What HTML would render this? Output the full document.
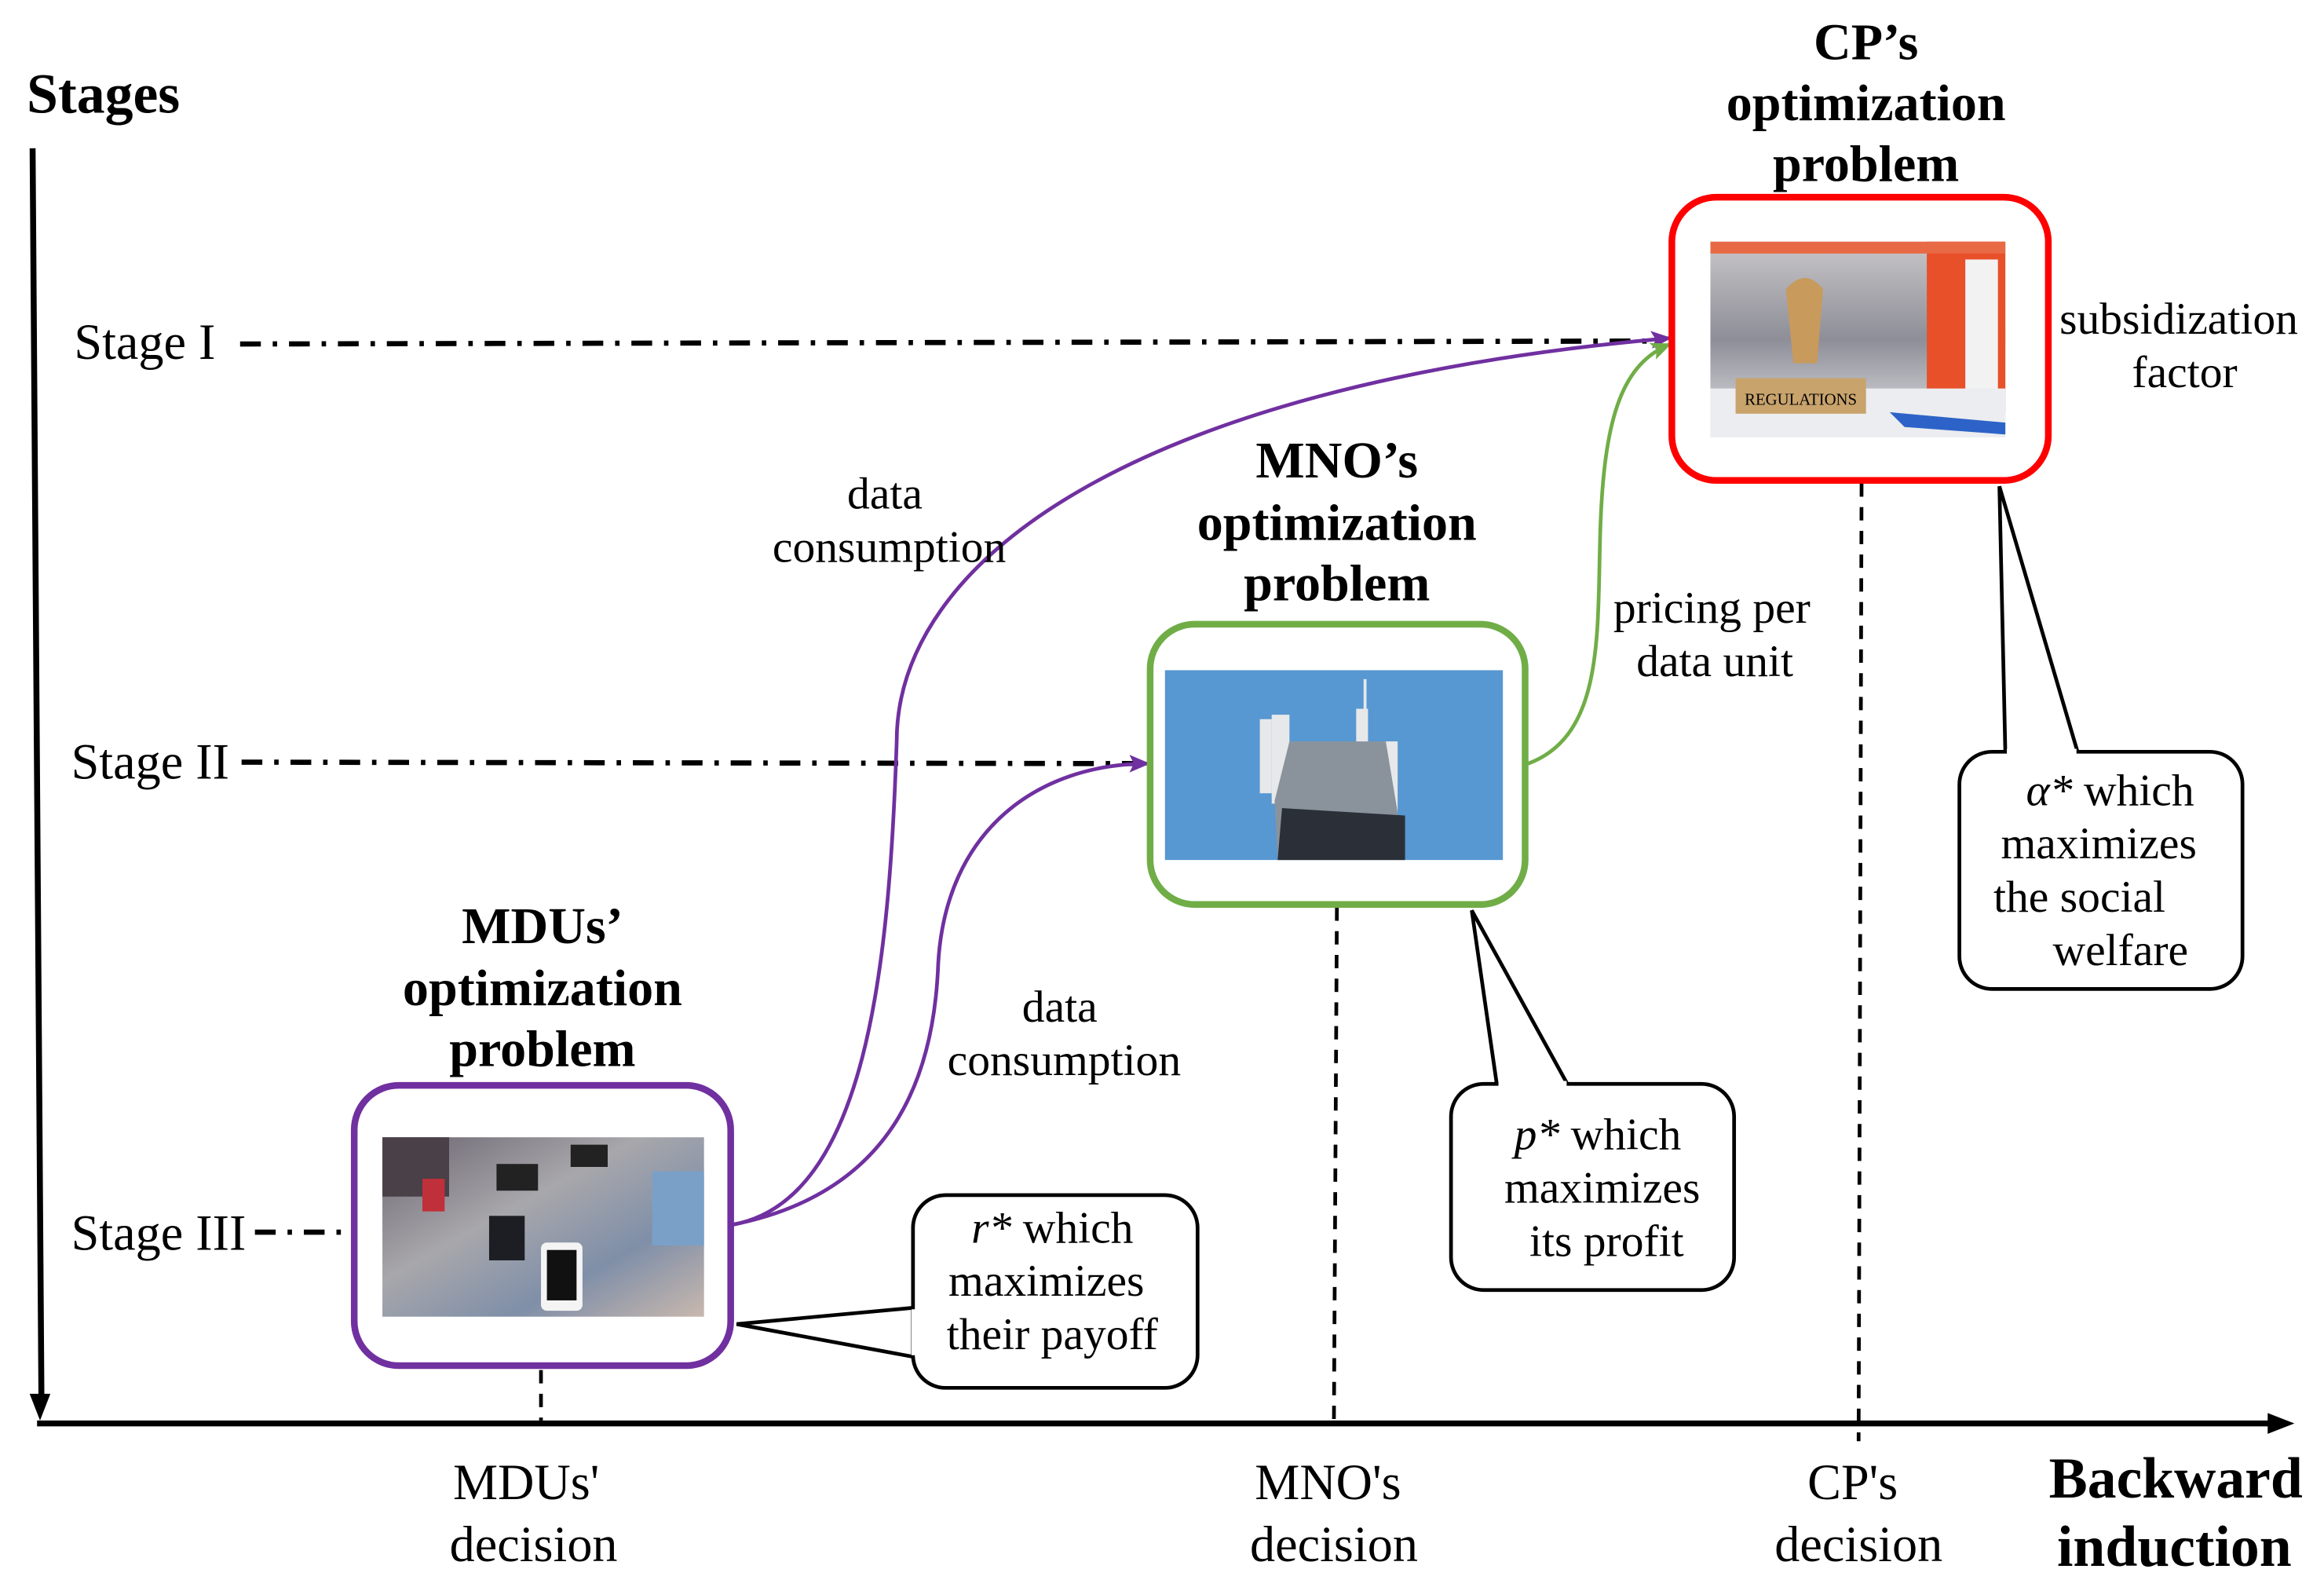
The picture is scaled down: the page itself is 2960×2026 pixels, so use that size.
<!DOCTYPE html>
<html><head><meta charset="utf-8"><style>
html,body{margin:0;padding:0;background:#fff;}
svg{display:block;}
text{font-family:"Liberation Serif",serif;fill:#000;}
.b{font-weight:bold;font-size:35px;}
.n{font-size:30.5px;}
</style></head><body>
<svg width="2960" height="2026" viewBox="0 0 1568 1073" preserveAspectRatio="none" xmlns="http://www.w3.org/2000/svg">
<defs>
<marker id="ap" markerWidth="14" markerHeight="12" refX="13" refY="6" orient="auto" markerUnits="userSpaceOnUse"><path d="M0,0 L14,6 L0,12 L3,6 z" fill="#7030a0"/></marker>
<marker id="ag" markerWidth="14" markerHeight="12" refX="13" refY="6" orient="auto" markerUnits="userSpaceOnUse"><path d="M0,0 L14,6 L0,12 L3,6 z" fill="#70ad47"/></marker>
<linearGradient id="ph" x1="0" y1="0" x2="1" y2="1"><stop offset="0" stop-color="#6a6470"/><stop offset="0.4" stop-color="#a8a7ab"/><stop offset="0.7" stop-color="#7f8fa8"/><stop offset="1" stop-color="#c9b8ae"/></linearGradient>
<linearGradient id="rg" x1="0" y1="0" x2="0" y2="1"><stop offset="0" stop-color="#c8c6c8"/><stop offset="0.5" stop-color="#8e8e98"/><stop offset="1" stop-color="#e6e6ea"/></linearGradient>
</defs>

<text x="18" y="76" class="b" style="font-size:38px">Stages</text>
<line x1="22" y1="100" x2="28" y2="950" stroke="#000" stroke-width="4"/>
<path d="M27,958 L20,940 L34,940 z" fill="#000"/>
<line x1="25" y1="960" x2="1535" y2="960" stroke="#000" stroke-width="4"/>
<path d="M1548,960 L1530,953 L1530,967 z" fill="#000"/>

<text x="50" y="242" class="n" style="font-size:34px">Stage I</text>
<text x="48" y="525" class="n" style="font-size:34px">Stage II</text>
<text x="48" y="843" class="n" style="font-size:34px">Stage III</text>
<g stroke="#000" stroke-width="3.5" stroke-dasharray="14,8,3,8" fill="none">
<line x1="162" y1="232" x2="1115" y2="230"/>
<line x1="163" y1="514" x2="770" y2="515"/>
<line x1="172" y1="831" x2="238" y2="831"/>
</g>
<g stroke="#000" stroke-width="2.5" stroke-dasharray="9,7" fill="none">
<line x1="365" y1="924" x2="365" y2="958"/>
<line x1="902" y1="612" x2="900" y2="958"/>
<line x1="1256" y1="326" x2="1254" y2="972"/>
</g>

<path d="M494,826 C585,810 600,650 605,500 C605,380 760,260 1127,228" stroke="#7030a0" stroke-width="2.5" fill="none" marker-end="url(#ap)"/>
<path d="M494,826 C600,805 630,730 633,650 C638,560 700,515 775,515" stroke="#7030a0" stroke-width="2.5" fill="none" marker-end="url(#ap)"/>
<path d="M1031,515 C1085,495 1077,420 1080,350 C1083,280 1095,245 1127,232" stroke="#70ad47" stroke-width="2.5" fill="none" marker-end="url(#ag)"/>

<rect x="1128" y="133" width="254" height="191" rx="30" fill="#fff" stroke="#ff0000" stroke-width="4.5"/>
<rect x="1154" y="163" width="199" height="132" fill="url(#rg)"/>
<rect x="1300" y="163" width="53" height="115" fill="#e8502a"/>
<rect x="1326" y="175" width="22" height="95" fill="#f2f2f2"/>
<rect x="1154" y="163" width="199" height="8" fill="#e86a45"/>
<rect x="1154" y="262" width="199" height="33" fill="#ecedf0"/>
<path d="M1205,195 Q1218,180 1230,195 L1226,245 L1210,245 z" fill="#c89a5c"/>
<rect x="1171" y="255" width="88" height="24" fill="#c8a36c"/>
<text x="1215" y="273" text-anchor="middle" style="font-size:11px">REGULATIONS</text>
<path d="M1275,278 L1353,285 L1353,293 L1285,288 z" fill="#2d63c8"/>
<text x="1259" y="40" class="b" text-anchor="middle">CP’s</text>
<text x="1259" y="81" class="b" text-anchor="middle">optimization</text>
<text x="1259" y="122" class="b" text-anchor="middle">problem</text>
<text x="1470" y="225" class="n" text-anchor="middle">subsidization</text>
<text x="1474" y="261" class="n" text-anchor="middle">factor</text>

<rect x="776" y="421" width="253" height="189" rx="30" fill="#fff" stroke="#70ad47" stroke-width="4.5"/>
<rect x="786" y="452" width="228" height="128" fill="#5797d2"/>
<g fill="#e6e8ea">
<rect x="850" y="485" width="8" height="50"/><rect x="858" y="482" width="12" height="60"/>
<rect x="933" y="500" width="10" height="55"/><rect x="915" y="478" width="8" height="30"/>
<rect x="920" y="458" width="2" height="30"/>
</g>
<path d="M860,540 L870,500 L935,500 L945,560 L948,580 L862,580 z" fill="#8a939c"/>
<path d="M865,545 L948,550 L948,580 L862,580 z" fill="#2b3038"/>
<text x="902" y="322" class="b" text-anchor="middle">MNO’s</text>
<text x="902" y="364" class="b" text-anchor="middle">optimization</text>
<text x="902" y="405" class="b" text-anchor="middle">problem</text>

<rect x="239" y="732" width="254" height="189" rx="30" fill="#fff" stroke="#7030a0" stroke-width="4.5"/>
<rect x="258" y="767" width="217" height="121" fill="url(#ph)"/>
<rect x="365" y="838" width="28" height="46" rx="4" fill="#f4f4f4"/><rect x="369" y="843" width="20" height="34" fill="#111"/>
<rect x="335" y="785" width="28" height="18" fill="#222"/><rect x="385" y="772" width="25" height="15" fill="#222"/>
<rect x="330" y="820" width="24" height="30" fill="#1d1d24"/><rect x="440" y="790" width="35" height="50" fill="#7aa0c8"/>
<rect x="258" y="767" width="45" height="40" fill="#4a4048"/><rect x="285" y="795" width="15" height="22" fill="#c0303a"/>
<text x="366" y="636" class="b" text-anchor="middle">MDUs’</text>
<text x="366" y="678" class="b" text-anchor="middle">optimization</text>
<text x="366" y="719" class="b" text-anchor="middle">problem</text>

<text x="597" y="343" class="n" text-anchor="middle">data</text>
<text x="600" y="379" class="n" text-anchor="middle">consumption</text>
<text x="715" y="689" class="n" text-anchor="middle">data</text>
<text x="718" y="725" class="n" text-anchor="middle">consumption</text>
<text x="1155" y="420" class="n" text-anchor="middle">pricing per</text>
<text x="1157" y="456" class="n" text-anchor="middle">data unit</text>

<path d="M497,893 L616,882 L616,915 z" fill="#fff" stroke="#000" stroke-width="2.5"/>
<rect x="616" y="806" width="192" height="130" rx="22" fill="#fff" stroke="#000" stroke-width="2.5"/>
<line x1="617" y1="883" x2="617" y2="914" stroke="#fff" stroke-width="4"/>
<text x="710" y="838" class="n" text-anchor="middle"><tspan font-style="italic">r*</tspan> which</text>
<text x="706" y="874" class="n" text-anchor="middle">maximizes</text>
<text x="710" y="910" class="n" text-anchor="middle">their payoff</text>

<path d="M993,614 L1010,732 L1058,732 z" fill="#fff" stroke="#000" stroke-width="2.5"/>
<rect x="979" y="731" width="191" height="139" rx="22" fill="#fff" stroke="#000" stroke-width="2.5"/>
<line x1="1011" y1="731" x2="1057" y2="731" stroke="#fff" stroke-width="4"/>
<text x="1078" y="775" class="n" text-anchor="middle"><tspan font-style="italic">p*</tspan> which</text>
<text x="1081" y="811" class="n" text-anchor="middle">maximizes</text>
<text x="1084" y="847" class="n" text-anchor="middle">its profit</text>

<path d="M1349,328 L1353,508 L1402,508 z" fill="#fff" stroke="#000" stroke-width="2.5"/>
<rect x="1322" y="507" width="191" height="160" rx="22" fill="#fff" stroke="#000" stroke-width="2.5"/>
<line x1="1354" y1="507" x2="1401" y2="507" stroke="#fff" stroke-width="4"/>
<text x="1367" y="543" class="n"><tspan font-style="italic">α*</tspan> which</text>
<text x="1350" y="579" class="n">maximizes</text>
<text x="1345" y="615" class="n">the social</text>
<text x="1385" y="651" class="n">welfare</text>

<text x="355" y="1011" class="n" text-anchor="middle" style="font-size:34px">MDUs'</text>
<text x="360" y="1053" class="n" text-anchor="middle" style="font-size:34px">decision</text>
<text x="896" y="1011" class="n" text-anchor="middle" style="font-size:34px">MNO's</text>
<text x="900" y="1053" class="n" text-anchor="middle" style="font-size:34px">decision</text>
<text x="1250" y="1011" class="n" text-anchor="middle" style="font-size:34px">CP's</text>
<text x="1254" y="1053" class="n" text-anchor="middle" style="font-size:34px">decision</text>
<text x="1468" y="1010" class="b" text-anchor="middle" style="font-size:39px">Backward</text>
<text x="1467" y="1056" class="b" text-anchor="middle" style="font-size:39px">induction</text>
</svg>
</body></html>
